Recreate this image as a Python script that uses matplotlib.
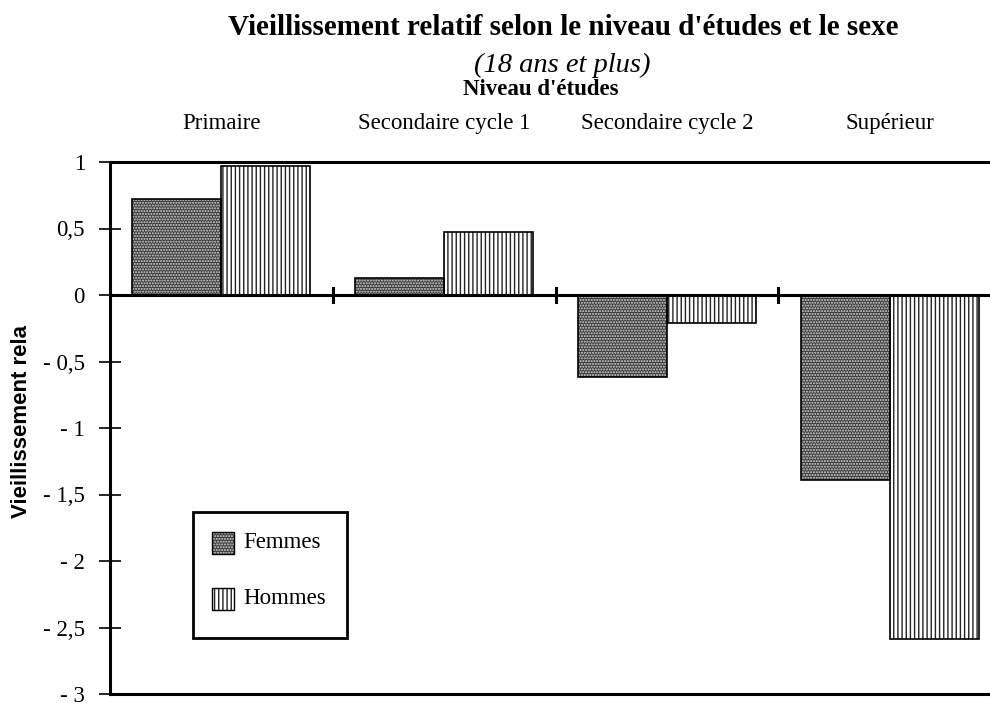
import matplotlib
matplotlib.use("Agg")
import matplotlib.pyplot as plt
import matplotlib.patches as mpatches
import numpy as np

categories = ["Primaire", "Secondaire cycle 1", "Secondaire cycle 2", "Supérieur"]
femmes = [0.72, 0.125, -0.62, -1.39]
hommes = [0.97, 0.47, -0.21, -2.59]
yticks = [1, 0.5, 0, -0.5, -1, -1.5, -2, -2.5, -3]
yticklabels = ["1", "0,5", "0", "- 0,5", "- 1", "- 1,5", "- 2", "- 2,5", "- 3"]

W, H = 990, 706
fig = plt.figure(figsize=(W / 100, H / 100), dpi=100)
serif = ["Liberation Serif", "DejaVu Serif"]
sans = ["Liberation Sans", "DejaVu Sans"]

left, right, top, bottom = 110, 1001, 162, 694
ax = fig.add_axes([left / W, 1 - bottom / H, (right - left) / W, (bottom - top) / H])

x = np.arange(len(categories))
bw = 0.4
F_FACE, F_HATCH, F_PAT = "#3a3a3a", "#d8d8d8", "......"
H_FACE, H_HATCH, H_PAT = "white", "#222222", "||||"

ax.bar(x - bw / 2, femmes, bw, color=F_FACE, edgecolor=F_HATCH, hatch=F_PAT, linewidth=0, zorder=2)
ax.bar(x - bw / 2, femmes, bw, fill=False, edgecolor="black", linewidth=1.2, zorder=3)
ax.bar(x + bw / 2, hommes, bw, color=H_FACE, edgecolor=H_HATCH, hatch=H_PAT, linewidth=0, zorder=2)
ax.bar(x + bw / 2, hommes, bw, fill=False, edgecolor="black", linewidth=1.2, zorder=3)

ax.set_xlim(-0.5, len(categories) - 0.5)
ax.set_ylim(-3, 1)
ax.axhline(0, color="black", linewidth=2.2, zorder=4)

for b in x[:-1] + 0.5:
    ax.plot([b, b], [-0.055, 0.055], color="black", linewidth=2.2, zorder=5, clip_on=False)

ax.set_xticks([])
ax.set_yticks(yticks)
ax.set_yticklabels(yticklabels, fontfamily=serif, fontsize=16.5)
ax.tick_params(axis="y", direction="inout", length=16, width=1.2, pad=10)
for s in ["left", "top", "bottom"]:
    ax.spines[s].set_linewidth(2.2)
ax.spines["right"].set_visible(False)

ycat = 1 + (162 - 129) / (bottom - top)
for xi, c in zip(x, categories):
    ax.text(xi, ycat, c, transform=ax.get_xaxis_transform(), ha="center", va="baseline",
            fontfamily=serif, fontsize=16.5)

fig.text(563 / W, 1 - 35 / H, "Vieillissement relatif selon le niveau d'études et le sexe",
         ha="center", va="baseline", fontfamily=serif, fontsize=21, fontweight="bold")
fig.text(562 / W, 1 - 72 / H, "(18 ans et plus)", ha="center", va="baseline",
         fontfamily=serif, fontsize=20.5, style="italic")
fig.text(541 / W, 1 - 95 / H, "Niveau d'études", ha="center", va="baseline",
         fontfamily=serif, fontsize=16.5, fontweight="bold")
fig.text(22 / W, 1 - 422 / H, "Vieillissement rela", ha="center", va="center", rotation=90,
         fontfamily=sans, fontsize=16, fontweight="bold")

# legend
lx0, ly0, lx1, ly1 = 193, 512, 347, 638
fig.patches.append(mpatches.Rectangle((lx0 / W, 1 - ly1 / H), (lx1 - lx0) / W, (ly1 - ly0) / H,
                                      transform=fig.transFigure, facecolor="white",
                                      edgecolor="black", linewidth=2, zorder=10))
for yc, lab, fc, ec, h in [(543, "Femmes", F_FACE, F_HATCH, F_PAT),
                            (599, "Hommes", H_FACE, H_HATCH, H_PAT)]:
    fig.patches.append(mpatches.Rectangle((212 / W, 1 - (yc + 11) / H), 22 / W, 22 / H,
                                          transform=fig.transFigure, facecolor=fc, edgecolor=ec,
                                          hatch=h, linewidth=0, zorder=11))
    fig.patches.append(mpatches.Rectangle((212 / W, 1 - (yc + 11) / H), 22 / W, 22 / H,
                                          transform=fig.transFigure, fill=False, edgecolor="black",
                                          linewidth=1, zorder=12))
    fig.text(243 / W, 1 - yc / H, lab, ha="left", va="center", fontfamily=serif,
             fontsize=16.5, zorder=13)

fig.savefig("out.png", dpi=100)
